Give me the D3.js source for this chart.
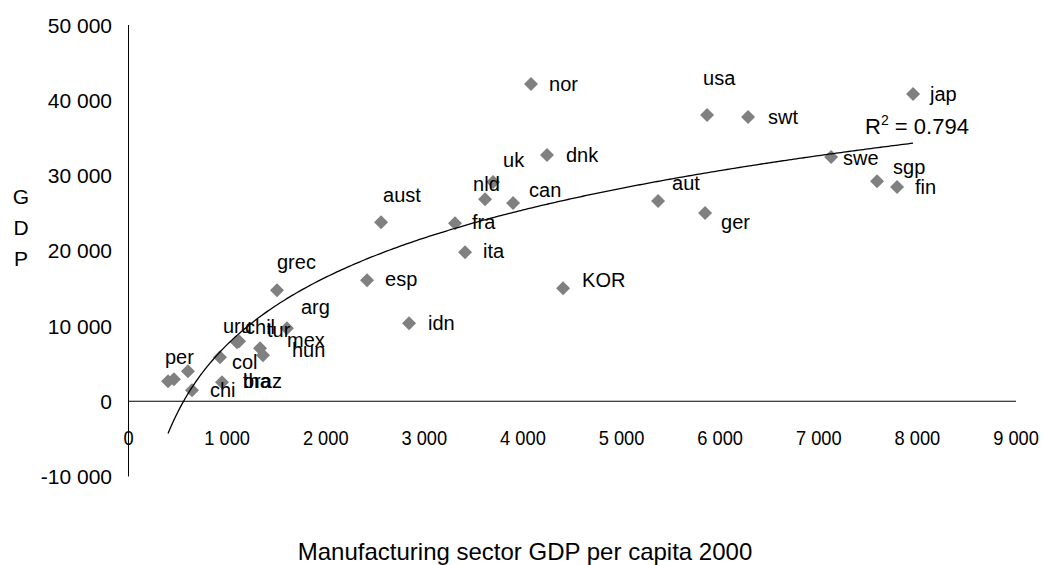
<!DOCTYPE html>
<html>
<head>
<meta charset="utf-8">
<script src="https://cdn.jsdelivr.net/npm/d3@7"></script>
<style>
  html, body { margin: 0; padding: 0; background: #fff; }
  svg { display: block; font-family: "Liberation Sans", Arial, sans-serif; }
</style>
</head>
<body>
<svg id="chart" width="1046" height="565"></svg>
<script>
// Country codes, manufacturing GDP per capita (2000) and GDP per capita
const countries = ["nor", "usa", "swt", "jap", "dnk", "uk", "nld", "can", "fra", "ita",
  "KOR", "aust", "esp", "idn", "grec", "arg", "aut", "ger", "swe", "sgp", "fin",
  "tha", "per", "hun", "braz", "chil", "uru", "tur", "mex", "chi", "col"];
const mfgGdp = [4082, 5867, 6283, 7956, 4244, 3697, 3616, 3900, 3311, 3413,
  4407, 2561, 2419, 2845, 1506, 1607, 5370, 5847, 7125, 7591, 7794,
  401, 461, 603, 948, 1121, 1100, 1334, 1364, 644, 928];
const gdp = [42150, 38030, 37770, 40820, 32710, 29120, 26860, 26330, 23670, 19810,
  15030, 23800, 16090, 10370, 14760, 9710, 26600, 25000, 32450, 29250, 28460,
  2660, 2930, 3990, 2530, 7980, 7850, 7050, 6120, 1460, 5850];

// Axis ticks
const xTicks = [0, 1000, 2000, 3000, 4000, 5000, 6000, 7000, 8000, 9000];
const yTicks = [-10000, 0, 10000, 20000, 30000, 40000, 50000];

// Logarithmic trend: GDP = trendSlope * ln(x) + trendIntercept
const trendSlope = 12911;
const trendIntercept = -81666;
const rSquared = "0.794";

const xTitle = "Manufacturing sector GDP per capita 2000";
const yTitle = ["G", "D", "P"];

// ---- layout ----
const svg = d3.select("#chart");
const x = d3.scaleLinear().domain([0, 9000]).range([128.5, 1016]);
const y = d3.scaleLinear().domain([-10000, 50000]).range([476.5, 25]);

// label placement relative to each marker (pixels)
const labelOffset = {
  nor: [18, 0], usa: [-4, -37], swt: [20, 0], jap: [17, 0], dnk: [19, 0],
  uk: [10, -22], nld: [-12, -15], can: [16, -13], fra: [17, -1], ita: [18, -1],
  KOR: [19, -8], aust: [2, -27], esp: [18, -1], idn: [19, 0], grec: [0, -28],
  arg: [14, -21], aut: [14, -18], ger: [16, 9], swe: [12, 1], sgp: [16, -14],
  fin: [18, 0], tha: [75, 0], per: [-9, -22], hun: [104, -21], braz: [21, -1],
  chil: [6, -14], uru: [-14, -16], tur: [7, -18], mex: [24, -15], chi: [18, 0],
  col: [12, 5]
};

// thousands separated by a space, plain hyphen for negatives
const fmt = v => d3.format(",")(v).replace(/,/g, " ").replace("\u2212", "-");

// axes lines
svg.append("line")
  .attr("x1", x(0)).attr("x2", x(0))
  .attr("y1", y(50000)).attr("y2", y(-10000))
  .attr("stroke", "#000").attr("stroke-width", 1);
svg.append("line")
  .attr("x1", x(0)).attr("x2", x(9000))
  .attr("y1", y(0)).attr("y2", y(0))
  .attr("stroke", "#000").attr("stroke-width", 1);

// y tick labels
svg.append("g").selectAll("text").data(yTicks).join("text")
  .attr("x", 112).attr("y", d => y(d))
  .attr("dy", "0.36em")
  .attr("text-anchor", "end")
  .attr("font-size", 21)
  .attr("fill", "#000")
  .text(fmt);

// x tick labels (narrow type)
svg.append("g").selectAll("text").data(xTicks).join("text")
  .attr("transform", d => `translate(${x(d)},${y(0) + 44}) scale(0.87,1)`)
  .attr("text-anchor", "middle")
  .attr("font-size", 21)
  .attr("fill", "#000")
  .text(fmt);

// axis titles
svg.append("text")
  .attr("x", 525).attr("y", 560)
  .attr("text-anchor", "middle")
  .attr("font-size", 24)
  .attr("fill", "#000")
  .text(xTitle);
svg.append("g").selectAll("text").data(yTitle).join("text")
  .attr("x", 21).attr("y", (d, i) => 196 + i * 31)
  .attr("dy", "0.36em")
  .attr("text-anchor", "middle")
  .attr("font-size", 21)
  .attr("fill", "#000")
  .text(d => d);

// points
const pts = countries.map((c, i) => ({ name: c, xv: mfgGdp[i], yv: gdp[i] }));
const diamond = d3.symbol().type(d3.symbolSquare).size(98);
svg.append("g").selectAll("path").data(pts).join("path")
  .attr("d", diamond)
  .attr("transform", d => `translate(${x(d.xv)},${y(d.yv)}) rotate(45)`)
  .attr("fill", "#808080");

// trend line
const xMin = d3.min(mfgGdp), xMax = d3.max(mfgGdp);
const trendPts = d3.range(0, 301).map(i => {
  const xv = xMin + (xMax - xMin) * i / 300;
  return [xv, trendSlope * Math.log(xv) + trendIntercept];
});
svg.append("path")
  .datum(trendPts)
  .attr("d", d3.line().x(d => x(d[0])).y(d => y(d[1])))
  .attr("fill", "none")
  .attr("stroke", "#000")
  .attr("stroke-width", 1.3);

// point labels
svg.append("g").selectAll("text").data(pts).join("text")
  .attr("x", d => x(d.xv) + labelOffset[d.name][0])
  .attr("y", d => y(d.yv) + labelOffset[d.name][1])
  .attr("dy", "0.36em")
  .attr("font-size", 20)
  .attr("fill", "#000")
  .text(d => d.name);

// R-squared label near the end of the trend line
const endPt = trendPts[trendPts.length - 1];
const r2 = svg.append("text")
  .attr("x", x(endPt[0]) - 48)
  .attr("y", y(endPt[1]) - 9)
  .attr("font-size", 22)
  .attr("fill", "#000");
r2.append("tspan").text("R");
r2.append("tspan").attr("dy", -9).attr("font-size", 14).text("2");
r2.append("tspan").attr("dy", 9).text(" = " + rSquared);
</script>
</body>
</html>
